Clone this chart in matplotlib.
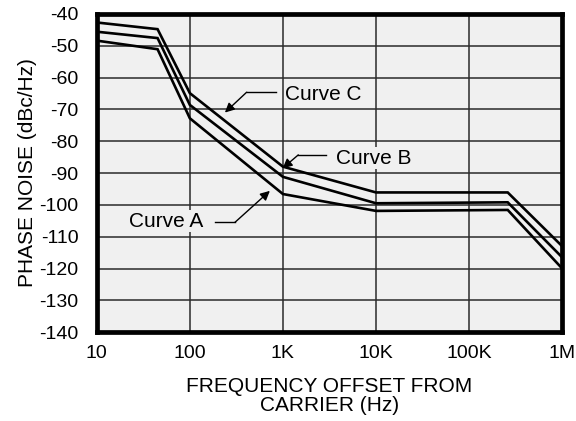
import matplotlib
matplotlib.use("Agg")
import matplotlib.pyplot as plt
import numpy as np

plt.rcParams['font.family'] = ['Liberation Sans', 'DejaVu Sans']
plt.rcParams['axes.unicode_minus'] = False

# Data (frequency offset in Hz, phase noise in dBc/Hz)
freq = [10, 45, 100, 1000, 10000, 260000, 1000000]
curve_a = [-48.4, -51.1, -72.8, -96.6, -101.9, -101.6, -120.0]
curve_b = [-45.6, -47.6, -68.6, -91.2, -99.5, -99.2, -116.5]
curve_c = [-42.7, -44.8, -64.9, -88.0, -96.1, -96.1, -113.0]

x_ticks = [10, 100, 1000, 10000, 100000, 1000000]
x_ticklabels = ['10', '100', '1K', '10K', '100K', '1M']
y_ticks = list(range(-140, -39, 10))

fig = plt.figure(figsize=(5.76, 4.21), dpi=100)
ax = fig.add_axes([0.168, 0.211, 0.808, 0.756])
ax.set_facecolor('#f0f0f0')

for ys in (curve_a, curve_b, curve_c):
    ax.plot(freq, ys, color='black', lw=1.9, solid_joinstyle='miter', zorder=3)

ax.set_xscale('log')
ax.set_xlim(10, 1e6)
ax.set_ylim(-140, -40)
ax.set_xticks(x_ticks)
ax.set_xticklabels(x_ticklabels)
ax.set_yticks(y_ticks)
ax.xaxis.set_minor_locator(matplotlib.ticker.NullLocator())
ax.tick_params(length=0, labelsize=14)
ax.tick_params(axis='x', pad=9)
ax.tick_params(axis='y', pad=13)
ax.grid(True, color='#2a2a2a', lw=1.1)
ax.set_axisbelow(True)
for s in ax.spines.values():
    s.set_linewidth(3.4)
    s.set_color('black')

ax.set_xlabel('FREQUENCY OFFSET FROM\nCARRIER (Hz)', fontsize=15, labelpad=11, linespacing=1.02)
ax.set_ylabel('PHASE NOISE (dBc/Hz)', fontsize=15, labelpad=2)

arrow = dict(arrowstyle='-|>', color='black', lw=1.0, mutation_scale=14,
             shrinkA=0, shrinkB=0)

# Curve C
ax.plot([842, 408], [-64.6, -64.6], color='black', lw=1.0, zorder=4)
ax.annotate('', xy=(238, -71.0), xytext=(408, -64.6), arrowprops=arrow, zorder=4)
ax.text(1052, -65.2, 'Curve C', fontsize=15, va='center', ha='left',
        bbox=dict(facecolor='#f0f0f0', edgecolor='none', pad=1), zorder=5)

# Curve B
ax.plot([2897, 1462], [-84.3, -84.3], color='black', lw=1.0, zorder=4)
ax.annotate('', xy=(993, -88.5), xytext=(1462, -84.3), arrowprops=arrow, zorder=4)
ax.text(3715, -85.4, 'Curve B', fontsize=15, va='center', ha='left',
        bbox=dict(facecolor='#f0f0f0', edgecolor='none', pad=1), zorder=5)

# Curve A
ax.plot([186, 305], [-105.5, -105.5], color='black', lw=1.0, zorder=4)
ax.annotate('', xy=(724, -95.6), xytext=(305, -105.5), arrowprops=arrow, zorder=4)
ax.text(141, -105.1, 'Curve A', fontsize=15, va='center', ha='right',
        bbox=dict(facecolor='#f0f0f0', edgecolor='none', pad=1), zorder=5)

fig.savefig('out.png', dpi=100)
